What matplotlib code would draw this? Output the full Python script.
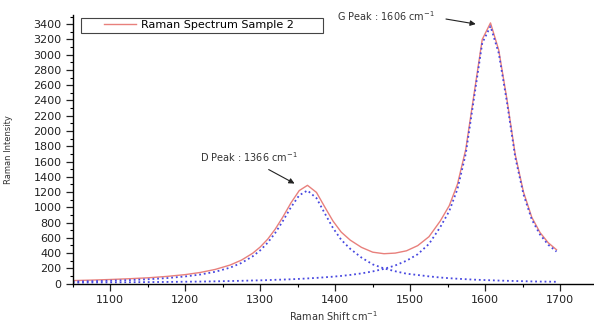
import numpy as np
import matplotlib.pyplot as plt
from matplotlib.patches import Rectangle
from matplotlib.ticker import MultipleLocator

# Raman shift (cm^-1) and intensities
shift = [1050, 1075, 1100, 1125, 1150, 1175, 1200, 1220, 1240, 1260,
         1275, 1290, 1300, 1310, 1320, 1330, 1341, 1352, 1363, 1375,
         1386, 1397, 1408, 1420, 1435, 1450, 1465, 1480, 1495, 1510,
         1525, 1540, 1552, 1563, 1574, 1585, 1596, 1607, 1618, 1629,
         1640, 1651, 1662, 1673, 1684, 1695]
spectrum = [40, 46, 54, 64, 76, 94, 118, 146, 186, 244,
            308, 398, 480, 583, 714, 870, 1058, 1219, 1288, 1195,
            1005, 820, 675, 570, 475, 412, 392, 400, 430, 498,
            615, 820, 1021, 1304, 1758, 2480, 3200, 3416, 3060, 2410,
            1690, 1200, 870, 670, 535, 444]
d_fit = [27, 32, 38, 46, 57, 72, 94, 119, 155, 210,
         271, 358, 436, 537, 664, 817, 1001, 1157, 1220, 1120,
         922, 729, 574, 456, 341, 252, 199, 162, 130, 113,
         95, 80, 71, 64, 58, 52, 48, 44, 40, 37,
         34, 32, 29, 27, 26, 24]
g_fit = [13, 15, 16, 18, 20, 22, 25, 27, 30, 34,
         37, 41, 43, 46, 50, 53, 57, 62, 68, 75,
         83, 91, 101, 114, 134, 160, 193, 238, 300, 385,
         520, 740, 950, 1240, 1700, 2428, 3152, 3372, 3020, 2373,
         1656, 1168, 841, 643, 509, 420]

red = '#e8807c'
blue = '#4848e0'

fig = plt.figure(figsize=(5.94, 3.22), dpi=100)
ax = fig.add_axes([0.1224, 0.118, 0.8776, 0.835])

ax.plot(shift, spectrum, color=red, lw=1.0, label='Raman Spectrum Sample 2')
ax.plot(shift, d_fit, color=blue, lw=1.3, ls=(0, (1, 1.6)))
ax.plot(shift, g_fit, color=blue, lw=1.3, ls=(0, (1, 1.6)))

ax.set_xlim(1050, 1745)
ax.set_ylim(-5, 3518)
ax.xaxis.set_major_locator(MultipleLocator(100))
ax.xaxis.set_minor_locator(MultipleLocator(50))
ax.yaxis.set_major_locator(MultipleLocator(200))
ax.yaxis.set_minor_locator(MultipleLocator(100))
ax.set_xticks(np.arange(1100, 1701, 100))

for s in ['top', 'right']:
    ax.spines[s].set_visible(False)
for s in ['left', 'bottom']:
    ax.spines[s].set_linewidth(1.0)
ax.tick_params(which='major', length=5, width=0.9, labelsize=8, pad=3, colors='#222')
ax.tick_params(which='minor', length=2.5, width=0.8)

ax.set_xlabel('Raman Shift cm$^{-1}$', fontsize=7, color='#333', va='center')
ax.xaxis.set_label_coords(0.5, -0.118)
ax.set_ylabel('Raman Intensity', fontsize=6, color='#333')
ax.yaxis.set_label_coords(-0.114, 0.5)

# peak labels
ax.text(1220, 1660, 'D Peak : 1366 cm$^{-1}$', fontsize=7, color='#333', va='center')
ax.annotate('', xy=(1349, 1294), xytext=(1308, 1512),
            arrowprops=dict(arrowstyle='-|>', color='#222', lw=0.8, mutation_scale=8))
ax.text(1403, 3507, 'G Peak : 1606 cm$^{-1}$', fontsize=7, color='#333', va='center')
ax.annotate('', xy=(1591, 3395), xytext=(1544, 3473),
            arrowprops=dict(arrowstyle='-|>', color='#222', lw=0.8, mutation_scale=8))

# legend with a wide box like the original
ax.add_patch(Rectangle((0.0153, 0.934), 0.4642, 0.0535, transform=ax.transAxes,
                       fill=False, edgecolor='#444', lw=0.8, clip_on=False))
ax.legend(loc='center left', bbox_to_anchor=(0.060, 0.962), frameon=False,
          fontsize=8, handlelength=2.9, handletextpad=0.45, borderpad=0,
          borderaxespad=0)

fig.savefig('out.png', dpi=100)
